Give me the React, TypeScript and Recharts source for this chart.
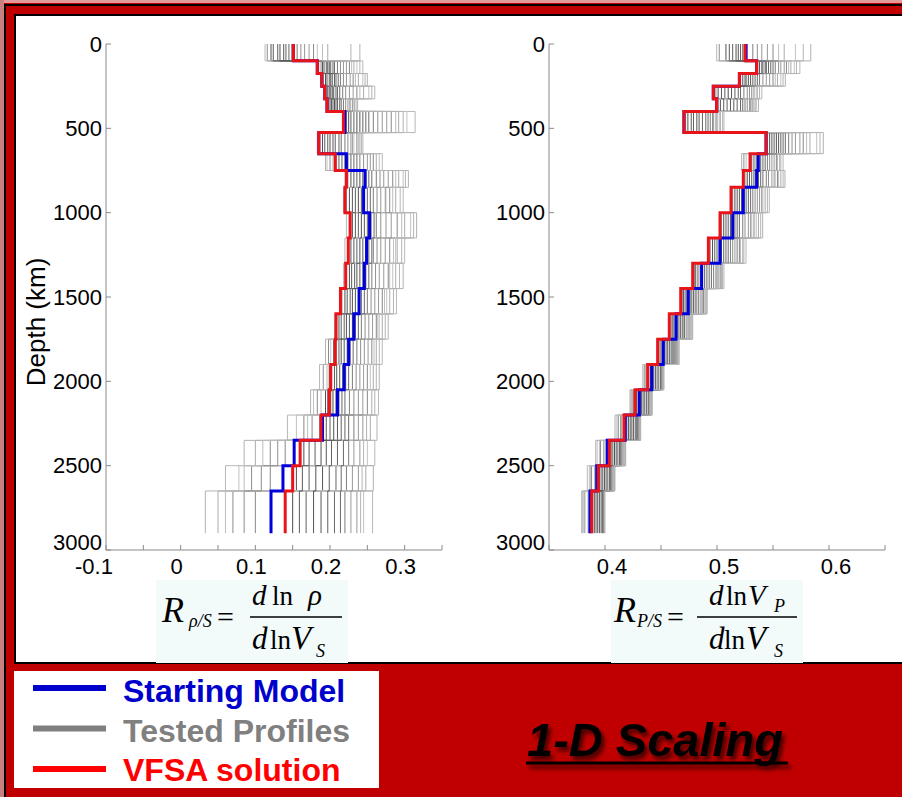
import React from 'react';
import { LineChart, Line, XAxis, YAxis } from 'recharts';

// Layer boundaries (km)
const depthBounds = [0, 100, 175, 250, 325, 400, 525, 650, 750, 850, 1000, 1150, 1300, 1450, 1600, 1750, 1900, 2050, 2200, 2350, 2500, 2650, 2900];
const depthTicks = [0, 500, 1000, 1500, 2000, 2500, 3000];

// Left panel: R rho/S
const rhoTicks = [-0.1, -0.05, 0, 0.05, 0.1, 0.15, 0.2, 0.25, 0.3, 0.35];
const rhoTickLabels = [-0.1, 0, 0.1, 0.2, 0.3];
const rhoStart = [0.151, 0.183, 0.189, 0.193, 0.196, 0.220, 0.185, 0.222, 0.247, 0.245, 0.253, 0.249, 0.246, 0.239, 0.232, 0.225, 0.219, 0.210, 0.190, 0.152, 0.137, 0.121];
const rhoVfsa = [0.151, 0.183, 0.189, 0.193, 0.196, 0.218, 0.185, 0.207, 0.222, 0.220, 0.227, 0.2245, 0.221, 0.214, 0.208, 0.207, 0.201, 0.199, 0.188, 0.160, 0.150, 0.140];
// tested values per layer (20 tested profiles)
const rhoTested = [
  [0.121, 0.130, 0.138, 0.145, 0.116, 0.156, 0.166, 0.178, 0.113, 0.197, 0.183, 0.240, 0.124, 0.133, 0.141, 0.149, 0.161, 0.172, 0.190, 0.228],
  [0.190, 0.195, 0.199, 0.204, 0.188, 0.210, 0.218, 0.226, 0.244, 0.232, 0.236, 0.185, 0.192, 0.197, 0.201, 0.206, 0.214, 0.222, 0.229, 0.240],
  [0.194, 0.199, 0.203, 0.208, 0.191, 0.214, 0.222, 0.231, 0.190, 0.238, 0.244, 0.250, 0.196, 0.201, 0.206, 0.211, 0.218, 0.227, 0.234, 0.247],
  [0.197, 0.201, 0.205, 0.210, 0.195, 0.217, 0.226, 0.236, 0.260, 0.245, 0.252, 0.194, 0.199, 0.203, 0.208, 0.213, 0.221, 0.231, 0.240, 0.256],
  [0.200, 0.204, 0.208, 0.213, 0.198, 0.218, 0.224, 0.230, 0.197, 0.233, 0.226, 0.237, 0.202, 0.206, 0.210, 0.215, 0.221, 0.227, 0.231, 0.235],
  [0.225, 0.232, 0.240, 0.248, 0.222, 0.258, 0.270, 0.282, 0.314, 0.292, 0.303, 0.218, 0.228, 0.236, 0.244, 0.252, 0.264, 0.276, 0.288, 0.298],
  [0.190, 0.197, 0.204, 0.212, 0.186, 0.220, 0.228, 0.236, 0.183, 0.240, 0.232, 0.244, 0.193, 0.200, 0.207, 0.215, 0.224, 0.230, 0.238, 0.242],
  [0.208, 0.216, 0.224, 0.232, 0.200, 0.240, 0.250, 0.258, 0.270, 0.262, 0.196, 0.194, 0.212, 0.220, 0.228, 0.236, 0.245, 0.254, 0.266, 0.204],
  [0.228, 0.236, 0.244, 0.252, 0.224, 0.262, 0.272, 0.284, 0.220, 0.292, 0.298, 0.305, 0.232, 0.240, 0.248, 0.256, 0.267, 0.278, 0.288, 0.301],
  [0.226, 0.234, 0.242, 0.250, 0.222, 0.258, 0.268, 0.280, 0.298, 0.288, 0.275, 0.218, 0.230, 0.238, 0.246, 0.254, 0.263, 0.274, 0.284, 0.294],
  [0.230, 0.238, 0.246, 0.255, 0.226, 0.262, 0.275, 0.290, 0.222, 0.300, 0.308, 0.316, 0.234, 0.242, 0.250, 0.259, 0.268, 0.282, 0.296, 0.312],
  [0.228, 0.236, 0.244, 0.252, 0.224, 0.258, 0.268, 0.280, 0.300, 0.290, 0.285, 0.220, 0.232, 0.240, 0.248, 0.256, 0.263, 0.274, 0.288, 0.296],
  [0.226, 0.233, 0.240, 0.248, 0.222, 0.256, 0.266, 0.278, 0.218, 0.288, 0.284, 0.298, 0.229, 0.236, 0.244, 0.252, 0.261, 0.272, 0.280, 0.293],
  [0.220, 0.227, 0.234, 0.242, 0.216, 0.250, 0.260, 0.270, 0.289, 0.280, 0.276, 0.213, 0.223, 0.230, 0.238, 0.246, 0.255, 0.265, 0.273, 0.285],
  [0.212, 0.219, 0.226, 0.234, 0.209, 0.242, 0.252, 0.262, 0.206, 0.270, 0.266, 0.278, 0.215, 0.222, 0.230, 0.238, 0.247, 0.257, 0.264, 0.274],
  [0.205, 0.212, 0.219, 0.227, 0.198, 0.236, 0.246, 0.256, 0.270, 0.262, 0.201, 0.194, 0.208, 0.215, 0.223, 0.231, 0.241, 0.251, 0.259, 0.266],
  [0.199, 0.206, 0.213, 0.221, 0.191, 0.230, 0.240, 0.250, 0.186, 0.258, 0.254, 0.266, 0.202, 0.209, 0.217, 0.225, 0.235, 0.245, 0.196, 0.262],
  [0.194, 0.201, 0.208, 0.216, 0.183, 0.226, 0.238, 0.250, 0.265, 0.256, 0.178, 0.174, 0.197, 0.204, 0.212, 0.220, 0.232, 0.244, 0.188, 0.260],
  [0.190, 0.200, 0.210, 0.220, 0.165, 0.232, 0.244, 0.176, 0.143, 0.254, 0.155, 0.263, 0.195, 0.205, 0.215, 0.225, 0.186, 0.238, 0.170, 0.249],
  [0.165, 0.180, 0.195, 0.210, 0.120, 0.225, 0.240, 0.140, 0.260, 0.100, 0.250, 0.085, 0.172, 0.188, 0.202, 0.218, 0.130, 0.232, 0.110, 0.245],
  [0.155, 0.172, 0.190, 0.208, 0.095, 0.222, 0.238, 0.120, 0.060, 0.248, 0.078, 0.258, 0.163, 0.181, 0.199, 0.215, 0.108, 0.230, 0.085, 0.243],
  [0.150, 0.168, 0.188, 0.206, 0.070, 0.220, 0.236, 0.100, 0.257, 0.050, 0.245, 0.033, 0.159, 0.178, 0.197, 0.214, 0.085, 0.228, 0.060, 0.241],
];

// Right panel: R P/S
const vpTicks = [0.35, 0.4, 0.45, 0.5, 0.55, 0.6, 0.65];
const vpTickLabels = [0.4, 0.5, 0.6];
const vpStart = [0.526, 0.5354, 0.520, 0.4967, 0.4997, 0.4705, 0.5438, 0.5369, 0.5354, 0.5235, 0.514, 0.5027, 0.4863, 0.4744, 0.4634, 0.452, 0.4417, 0.4307, 0.418, 0.402, 0.3926, 0.3866];
const vpVfsa = [0.525, 0.5354, 0.520, 0.4967, 0.4997, 0.4705, 0.5438, 0.5295, 0.5235, 0.5125, 0.5027, 0.4923, 0.4783, 0.4676, 0.4574, 0.447, 0.4381, 0.4268, 0.417, 0.4039, 0.394, 0.3881];
const vpTested = [
  [0.508, 0.514, 0.519, 0.523, 0.502, 0.532, 0.540, 0.550, 0.4997, 0.560, 0.570, 0.5837, 0.511, 0.517, 0.521, 0.525, 0.536, 0.545, 0.555, 0.577],
  [0.538, 0.541, 0.544, 0.548, 0.536, 0.552, 0.557, 0.562, 0.574, 0.566, 0.569, 0.535, 0.540, 0.543, 0.546, 0.550, 0.555, 0.560, 0.564, 0.571],
  [0.523, 0.526, 0.530, 0.534, 0.521, 0.538, 0.544, 0.550, 0.520, 0.554, 0.557, 0.561, 0.525, 0.528, 0.532, 0.536, 0.541, 0.547, 0.552, 0.559],
  [0.501, 0.507, 0.513, 0.519, 0.499, 0.524, 0.529, 0.533, 0.540, 0.536, 0.531, 0.497, 0.504, 0.510, 0.516, 0.521, 0.527, 0.531, 0.535, 0.538],
  [0.503, 0.509, 0.515, 0.521, 0.501, 0.525, 0.529, 0.532, 0.4997, 0.534, 0.531, 0.537, 0.506, 0.512, 0.518, 0.523, 0.527, 0.530, 0.533, 0.535],
  [0.474, 0.479, 0.484, 0.490, 0.472, 0.494, 0.497, 0.500, 0.5062, 0.503, 0.4715, 0.4705, 0.477, 0.482, 0.487, 0.492, 0.496, 0.499, 0.502, 0.505],
  [0.547, 0.551, 0.555, 0.559, 0.545, 0.564, 0.570, 0.577, 0.5438, 0.583, 0.589, 0.5949, 0.549, 0.553, 0.557, 0.561, 0.567, 0.574, 0.580, 0.592],
  [0.529, 0.533, 0.537, 0.541, 0.524, 0.545, 0.549, 0.553, 0.559, 0.556, 0.526, 0.522, 0.531, 0.535, 0.539, 0.543, 0.547, 0.551, 0.554, 0.557],
  [0.527, 0.531, 0.535, 0.539, 0.525, 0.544, 0.549, 0.554, 0.5235, 0.557, 0.552, 0.5607, 0.529, 0.533, 0.537, 0.541, 0.546, 0.551, 0.555, 0.559],
  [0.516, 0.520, 0.524, 0.528, 0.514, 0.532, 0.536, 0.540, 0.5467, 0.543, 0.538, 0.5125, 0.518, 0.522, 0.526, 0.530, 0.534, 0.538, 0.541, 0.545],
  [0.506, 0.510, 0.514, 0.518, 0.504, 0.523, 0.528, 0.533, 0.5027, 0.537, 0.531, 0.5408, 0.508, 0.512, 0.516, 0.520, 0.525, 0.530, 0.535, 0.539],
  [0.496, 0.500, 0.504, 0.508, 0.494, 0.512, 0.516, 0.520, 0.5259, 0.523, 0.518, 0.4923, 0.498, 0.502, 0.506, 0.510, 0.514, 0.518, 0.521, 0.524],
  [0.481, 0.485, 0.489, 0.493, 0.480, 0.497, 0.500, 0.503, 0.4783, 0.504, 0.502, 0.5062, 0.483, 0.487, 0.491, 0.495, 0.499, 0.501, 0.5035, 0.505],
  [0.470, 0.473, 0.476, 0.479, 0.469, 0.482, 0.485, 0.488, 0.4913, 0.490, 0.487, 0.4676, 0.4715, 0.4745, 0.4775, 0.4805, 0.4835, 0.4865, 0.489, 0.4905],
  [0.460, 0.463, 0.466, 0.469, 0.459, 0.471, 0.474, 0.476, 0.4574, 0.477, 0.475, 0.4783, 0.4615, 0.4645, 0.4675, 0.4705, 0.4725, 0.475, 0.4765, 0.478],
  [0.450, 0.453, 0.456, 0.459, 0.449, 0.461, 0.463, 0.465, 0.4663, 0.4655, 0.464, 0.4476, 0.4515, 0.4545, 0.4575, 0.460, 0.462, 0.464, 0.4655, 0.4485],
  [0.439, 0.442, 0.445, 0.448, 0.436, 0.450, 0.4515, 0.435, 0.4337, 0.452, 0.437, 0.4527, 0.4405, 0.4435, 0.4465, 0.4495, 0.4505, 0.438, 0.436, 0.452],
  [0.428, 0.431, 0.434, 0.437, 0.425, 0.439, 0.441, 0.424, 0.4422, 0.4415, 0.423, 0.4223, 0.4295, 0.4325, 0.4355, 0.4385, 0.440, 0.4255, 0.424, 0.4418],
  [0.418, 0.421, 0.424, 0.427, 0.412, 0.429, 0.431, 0.414, 0.4089, 0.4315, 0.410, 0.4319, 0.4195, 0.4225, 0.4255, 0.428, 0.430, 0.415, 0.4115, 0.431],
  [0.404, 0.407, 0.410, 0.413, 0.396, 0.415, 0.417, 0.399, 0.4185, 0.418, 0.393, 0.3917, 0.4055, 0.4085, 0.4115, 0.414, 0.416, 0.401, 0.395, 0.418],
  [0.395, 0.398, 0.401, 0.404, 0.388, 0.406, 0.408, 0.391, 0.3842, 0.4085, 0.386, 0.4089, 0.3965, 0.3995, 0.4025, 0.405, 0.407, 0.393, 0.387, 0.408],
  [0.389, 0.392, 0.395, 0.398, 0.382, 0.3985, 0.3995, 0.385, 0.400, 0.3995, 0.380, 0.3792, 0.3905, 0.3935, 0.3965, 0.3975, 0.399, 0.387, 0.381, 0.3995],
];

const testedColors = [
  '#4f4f4f', '#5e5e5e', '#575757', '#666666', '#8c8c8c', '#7c7c7c', '#979797', '#888888', '#b8b8b8', '#ababab',
  '#c2c2c2', '#b2b2b2', '#5a5a5a', '#525252', '#626262', '#6a6a6a', '#8f8f8f', '#9a9a9a', '#bdbdbd', '#b4b4b4',
];

const legendItems = ['Starting Model', 'Tested Profiles', 'VFSA solution'];
const legendColors = ['#0000cc', '#808080', '#ff0000'];
const titleText = '1-D Scaling';
const depthLabel = 'Depth (km)';

const SANS = "'Liberation Sans', Arial, Helvetica, sans-serif";
const SERIF = "'Liberation Serif', 'Times New Roman', serif";
const AXIS = '#8a8a8a';

function stairs(values: number[]) {
  const pts: { depth: number; v: number }[] = [];
  values.forEach((v, i) => {
    pts.push({ depth: depthBounds[i], v });
    pts.push({ depth: depthBounds[i + 1], v });
  });
  return pts;
}

type PanelProps = {
  tested: number[][];
  start: number[];
  vfsa: number[];
  domain: [number, number];
  ticks: number[];
  labels: number[];
  width: number;
  yWidth: number;
  mRight: number;
  labelDx: number;
};

function XTick(props: any) {
  const { x, y, payload, labels, labelDx } = props;
  const v = payload.value;
  if (!labels.includes(v)) return null;
  const extra = v < 0 ? -8 : 0;
  return (
    <text x={x + labelDx + extra} y={y} dy={15} textAnchor="middle" fill="#000" fontSize={22} fontFamily={SANS}>
      {String(v)}
    </text>
  );
}

function YTick(props: any) {
  const { x, y, payload } = props;
  const v = payload.value;
  return (
    <text x={x} y={v === 3000 ? y - 8 : y} dy={7.8} textAnchor="end" fill="#000" fontSize={22} fontFamily={SANS}>
      {String(v)}
    </text>
  );
}

function Panel({ tested, start, vfsa, domain, ticks, labels, width, yWidth, mRight, labelDx }: PanelProps) {
  const nProfiles = tested[0].length;
  const empty = () => '';
  return (
    <LineChart layout="vertical" width={width} height={600} margin={{ top: 44, right: mRight, bottom: 0, left: 0 }}>
      <XAxis xAxisId="b" orientation="bottom" type="number" domain={domain} allowDataOverflow ticks={ticks} interval={0}
        tickSize={-5} tickMargin={14} height={50} stroke={AXIS}
        tick={<XTick labels={labels} labelDx={labelDx} />} />
      <XAxis xAxisId="t" orientation="top" type="number" domain={domain} allowDataOverflow ticks={ticks} interval={0}
        tickSize={-5} height={0} stroke={AXIS} tickFormatter={empty} />
      <YAxis yAxisId="l" orientation="left" type="number" dataKey="depth" domain={[0, 3000]} allowDataOverflow
        ticks={depthTicks} interval={0} width={yWidth} tickSize={-5} tickMargin={9} stroke={AXIS}
        tick={<YTick />} />
      <YAxis yAxisId="r" orientation="right" type="number" dataKey="depth" domain={[0, 3000]} allowDataOverflow
        ticks={depthTicks} interval={0} width={0} tickSize={-5} stroke={AXIS} tickFormatter={empty} />
      {Array.from({ length: nProfiles }).map((_, k) => (
        <Line key={'t' + k} xAxisId="b" yAxisId="l" data={stairs(tested.map((row) => row[k]))} dataKey="v"
          stroke={testedColors[k]} strokeWidth={1} dot={false} activeDot={false} isAnimationActive={false} />
      ))}
      <Line xAxisId="b" yAxisId="l" data={stairs(start)} dataKey="v" stroke="#0000dd" strokeWidth={3}
        dot={false} activeDot={false} isAnimationActive={false} />
      <Line xAxisId="b" yAxisId="l" data={stairs(vfsa)} dataKey="v" stroke="#e8141a" strokeWidth={3}
        dot={false} activeDot={false} isAnimationActive={false} />
    </LineChart>
  );
}

function G({ x, y, s, t, it = true }: { x: number; y: number; s: number; t: string; it?: boolean }) {
  return (
    <text x={x} y={y} fontSize={s} fontStyle={it ? 'italic' : 'normal'} fontWeight="normal">
      {t}
    </text>
  );
}

export default function App() {
  return (
    <div style={{ position: 'absolute', left: 0, top: 0, width: 902, height: 797, background: '#c00000', overflow: 'hidden' }}>
      <div style={{ position: 'absolute', left: 0, top: 0, width: 902, height: 3, background: '#e49a9a' }} />
      <div style={{ position: 'absolute', left: 0, top: 0, width: 4, height: 797, background: '#c98080' }} />
      <div style={{ position: 'absolute', left: 4, top: 4, width: 898, height: 2, background: '#000' }} />
      <div style={{ position: 'absolute', left: 4, top: 4, width: 2, height: 793, background: '#000' }} />
      <div style={{ position: 'absolute', left: 14, top: 14, width: 900, height: 646, background: '#fff',
        borderTop: '2px solid #000', borderLeft: '2px solid #000', borderBottom: '2px solid #000' }} />
      <div style={{ position: 'absolute', left: 0, top: 0 }}>
        <Panel tested={rhoTested} start={rhoStart} vfsa={rhoVfsa} domain={[-0.1, 0.35]} ticks={rhoTicks}
          labels={rhoTickLabels} width={460} yWidth={106} mRight={18} labelDx={-4} />
      </div>
      <div style={{ position: 'absolute', left: 450, top: 0 }}>
        <Panel tested={vpTested} start={vpStart} vfsa={vpVfsa} domain={[0.35, 0.65]} ticks={vpTicks}
          labels={vpTickLabels} width={452} yWidth={99} mRight={17} labelDx={7} />
      </div>
      <svg width={902} height={797} style={{ position: 'absolute', left: 0, top: 0, pointerEvents: 'none' }}>
        <defs>
          <filter id="shadow" x="-10%" y="-20%" width="130%" height="160%">
            <feDropShadow dx="3" dy="4" stdDeviation="2" floodColor="#000" floodOpacity="0.65" />
          </filter>
        </defs>
        <text transform="translate(36,322) rotate(-90)" textAnchor="middle" dominantBaseline="central"
          fontFamily={SANS} fontSize={26} fill="#000">{depthLabel}</text>

        {/* left formula */}
        <rect x={156} y={580} width={192} height={83} fill="#f3fafa" />
        <g fontFamily={SERIF} fill="#000">
          <G x={162} y={622} s={36} t="R" />
          <G x={189} y={627} s={18} t="ρ/S" />
          <G x={217} y={627} s={30} t="=" it={false} />
          <line x1={250} x2={342} y1={617} y2={617} stroke="#000" strokeWidth={1.6} />
          <G x={252} y={605} s={29} t="d" />
          <G x={272} y={605} s={27} t="ln" it={false} />
          <G x={308} y={605} s={29} t="ρ" />
          <G x={252} y={649} s={31} t="d" />
          <G x={270} y={649} s={27} t="ln" it={false} />
          <G x={291} y={649} s={33} t="V" />
          <G x={316} y={657} s={18} t="S" />
        </g>

        {/* right formula */}
        <rect x={611} y={580} width={192} height={83} fill="#f3fafa" />
        <g fontFamily={SERIF} fill="#000">
          <G x={614} y={622} s={36} t="R" />
          <G x={637} y={627} s={18} t="P/S" />
          <G x={667} y={627} s={30} t="=" it={false} />
          <line x1={697} x2={797} y1={617} y2={617} stroke="#000" strokeWidth={1.6} />
          <G x={709} y={605} s={29} t="d" />
          <G x={726} y={605} s={27} t="ln" it={false} />
          <G x={748} y={605} s={29} t="V" />
          <G x={774} y={612} s={18} t="P" />
          <G x={709} y={649} s={31} t="d" />
          <G x={724} y={649} s={27} t="ln" it={false} />
          <G x={746} y={649} s={33} t="V" />
          <G x={774} y={657} s={18} t="S" />
        </g>

        {/* legend */}
        <rect x={14} y={671} width={365} height={117} fill="#fff" />
        {legendItems.map((t, i) => (
          <g key={t}>
            <line x1={33} x2={106} y1={688 + i * 40.5} y2={688 + i * 40.5} stroke={legendColors[i]} strokeWidth={6} />
            <text x={123} y={702 + i * 39.5} fontFamily={SANS} fontWeight="bold" fontSize={32} fill={legendColors[i]}>{t}</text>
          </g>
        ))}

        {/* title */}
        <g filter="url(#shadow)">
          <text x={527} y={756} fontFamily={SANS} fontWeight="bold" fontStyle="italic" fontSize={47} fill="#000">{titleText}</text>
          <line x1={526} x2={788} y1={763} y2={763} stroke="#000" strokeWidth={3} />
        </g>
      </svg>
    </div>
  );
}
